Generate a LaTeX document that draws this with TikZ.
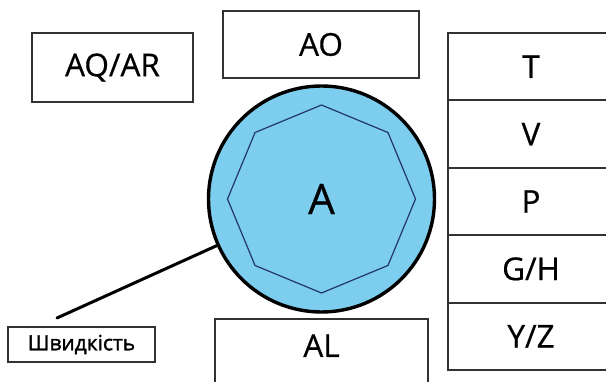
\documentclass[tikz,border=0pt]{standalone}
\usepackage{fontspec}
\setmainfont{Open Sans}
\newfontfamily\tagfont{Open Sans}[FakeBold=1.6]
\newfontfamily\boxfont{Open Sans}[FakeBold=0.6]
\usetikzlibrary{shapes.geometric, calc}

\definecolor{discblue}{RGB}{125,205,238}
\definecolor{rimnavy}{RGB}{35,55,100}
\definecolor{edgegray}{RGB}{50,50,50}

\begin{document}
\begin{tikzpicture}[
    x=1pt, y=-1pt,
    % Node styles
    box/.style={
        rectangle, draw=edgegray, line width=1.9pt, fill=white,
        inner sep=0pt, font=\boxfont\fontsize{31.5}{31.5}\selectfont
    },
    cell/.style={box, minimum width=166pt, minimum height=67.4pt},
    disc/.style={
        circle, draw=black, line width=3.4pt, fill=discblue,
        minimum size=226pt, inner sep=0pt
    },
    rim/.style={
        regular polygon, regular polygon sides=8, shape border rotate=22.5,
        draw=rimnavy, line width=1.2pt, minimum size=188pt, inner sep=0pt
    },
    tag/.style={
        rectangle, draw=edgegray, line width=1.5pt, fill=white,
        minimum width=147pt, minimum height=35pt, inner sep=0pt,
        font=\tagfont\fontsize{21}{21}\selectfont
    },
    link/.style={line width=3pt, line cap=round},
]
\useasboundingbox (0,0) rectangle (606,382);
\clip (0,0) rectangle (606,382);

% Top boxes
\node[box, minimum width=161pt, minimum height=69pt] (AQAR) at (112.5,67.5) {AQ/AR};
\node[box, minimum width=196pt, minimum height=67pt] (AO) at (321,44.5) {AO};

% Right stack
\foreach \name/\txt [count=\i] in {T/T, V/V, P/P, GH/{G/H}, YZ/{Y/Z}}
    \node[cell] (\name) at (531,{33+67.4*(\i-0.5)}) {\txt};

% Disc with octagon
\node[disc] (A) at (321.5,199) {};
\node[rim] (oct) at (A.center) {};
\node[font=\boxfont\fontsize{42}{42}\selectfont] (Alabel) at (A.center) {A};

% Bottom box (runs off the page)
\node[box, anchor=north, minimum width=213pt, text height=22pt, text depth=40pt,
      inner ysep=16pt] (AL) at (321.5,318) {AL};

% Speed tag and its connector
\node[tag] (speed) at (81.5,344.5) {Швидкість};
\coordinate (tail) at (57,318);
\draw[link] (A.204) -- (tail);

\end{tikzpicture}
\end{document}
